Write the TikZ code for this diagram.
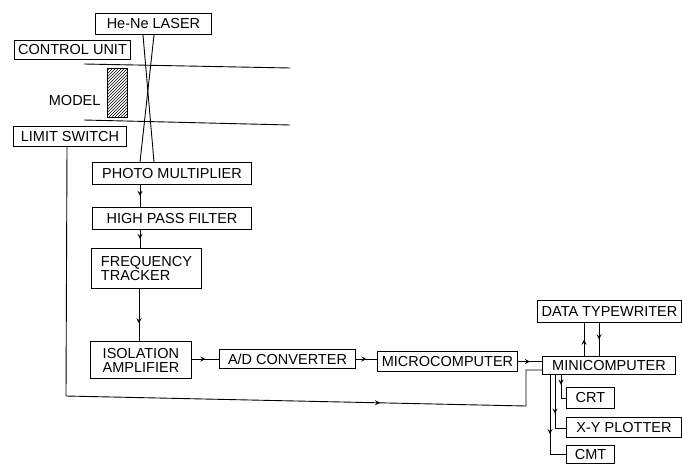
\documentclass[tikz,border=0pt]{standalone}
\usepackage{fontspec}
\setmainfont{Liberation Sans}
\usetikzlibrary{arrows,positioning,patterns,decorations.markings}

\begin{document}
\begin{tikzpicture}[
    x=1pt, y=-1pt,
    block/.style={rectangle, draw, line width=1pt, anchor=north west, inner sep=0pt, font=\fontsize{14.5}{14}\selectfont, align=left},
    wire/.style={line width=0.9pt},
    arrow/.style={wire, postaction={decorate}, decoration={markings, mark=at position #1 with {\arrow[scale=1.2]{stealth}}}},
    arrow/.default=0.5
]
\useasboundingbox (0,0) rectangle (682,463);

\node[block, minimum width=116pt, minimum height=21pt] (laser) at (95,13) {He-Ne LASER};
\node[block, minimum width=116pt, minimum height=19pt] (control) at (14,40) {CONTROL UNIT};
\node[block, minimum width=113pt, minimum height=20pt] (limit) at (13,126) {LIMIT SWITCH};
\node[block, minimum width=159pt, minimum height=22pt] (photo) at (92,162) {PHOTO MULTIPLIER};
\node[block, minimum width=159pt, minimum height=22pt, below=22pt of photo.south west, anchor=north west] (filter) {HIGH PASS FILTER};
\node[block, minimum width=110pt, minimum height=40pt] (tracker) at (91,248) {FREQUENCY\\TRACKER};
\node[block, minimum width=101pt, minimum height=37pt] (isolation) at (90,341) {ISOLATION\\AMPLIFIER};
\node[block, minimum width=136pt, minimum height=19pt] (adc) at (219,349) {A/D CONVERTER};
\node[block, minimum width=140pt, minimum height=20pt] (micro) at (377,351) {MICROCOMPUTER};
\node[block, minimum width=133pt, minimum height=18pt] (mini) at (542,356) {MINICOMPUTER};
\node[block, minimum width=144pt, minimum height=22pt] (typewriter) at (537,300) {DATA TYPEWRITER};
\node[block, minimum width=48pt, minimum height=21pt] (crt) at (566,387) {CRT};
\node[block, minimum width=115pt, minimum height=20pt] (plotter) at (566,417) {X-Y PLOTTER};
\node[block, minimum width=48pt, minimum height=18pt] (cmt) at (566,445) {CMT};

% model between the two rails
\node[draw, line width=1pt, pattern=north east lines, minimum width=20pt, minimum height=49pt, inner sep=0pt, anchor=north west] (model) at (107,68) {};
\node[left=3pt of model, font=\fontsize{14.5}{14}\selectfont, yshift=-8pt] (modellabel) {MODEL};
\coordinate (railAl) at (84,64);
\coordinate (railAr) at (290,68);
\coordinate (railBl) at (84,120);
\coordinate (railBr) at (290,125);
\draw[wire] (railAl) -- (railAr);
\draw[wire] (railBl) -- (railBr);

% laser beams
\draw[wire] ([xshift=48pt]laser.south west) -- ([xshift=62pt]photo.north west);
\draw[wire] ([xshift=59pt]laser.south west) -- ([xshift=48pt]photo.north west);

\draw[arrow] ([xshift=48pt]photo.south west) -- ([xshift=48pt]filter.north west);
\draw[arrow] ([xshift=48pt]filter.south west) -- ([xshift=49pt]tracker.north west);
\draw[arrow=0.66] ([xshift=48pt]tracker.south west) -- ([xshift=49pt]isolation.north west);
\draw[arrow] (isolation.east |- adc.west) -- (adc.west);
\draw[arrow] (adc.east) -- (micro.west |- adc.east);
\draw[arrow] (micro.east) -- (mini.west |- micro.east);
\draw[arrow=0.74] ([xshift=54pt]limit.south west) -- (66,396) -- (526,406) -- (526,370) -- (mini.west |- 0,370);
\draw[arrow] ([xshift=42pt]mini.north west) -- ([xshift=47pt]typewriter.south west);
\draw[arrow] ([xshift=62pt]typewriter.south west) -- ([xshift=57pt]mini.north west);
\draw[arrow=0.35] ([xshift=19pt]mini.south west) |- (crt.west);
\draw[arrow=0.6] ([xshift=13pt]mini.south west) |- ([yshift=-1pt]plotter.west);
\draw[arrow=0.62] ([xshift=8pt]mini.south west) |- (cmt.west);
\end{tikzpicture}
\end{document}
